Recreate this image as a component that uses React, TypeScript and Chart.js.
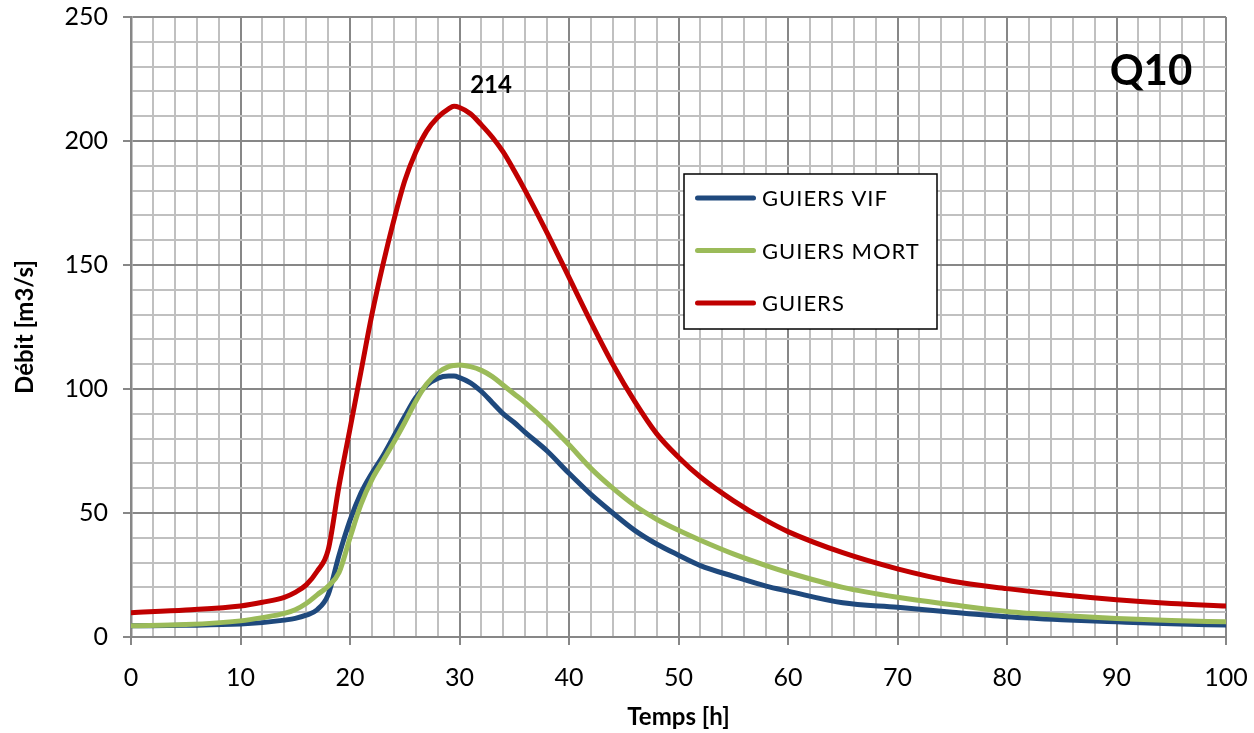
import React, { useEffect, useRef } from 'react';
import { Chart, registerables } from 'chart.js';

Chart.register(...registerables);

// Time axis (hours)
const hours = [0, 5, 10, 12, 14, 15, 16, 17, 18, 19, 20, 21, 22, 23, 24, 25, 26, 27, 28, 29, 29.5, 30, 31, 32, 33, 34, 35, 36, 38, 40, 42, 44, 46, 48, 50, 52, 55, 58, 60, 65, 70, 75, 80, 85, 90, 95, 100];

// Débit [m3/s]
const guiersVif = [4.5, 4.7, 5.2, 5.8, 6.8, 7.5, 8.8, 11, 17, 33, 47, 58, 66, 73, 81, 89, 96.5, 101.5, 104.3, 105.2, 105.2, 104.6, 102.5, 99, 94.5, 90, 86.5, 82.5, 75, 66, 57.5, 50, 43, 37.5, 33, 28.8, 24.5, 20.5, 18.5, 13.8, 12, 10, 8.2, 7, 6.1, 5.3, 4.8];
const guiersMort = [4.5, 5.0, 6.5, 7.8, 9.5, 11, 13.5, 17, 20.5, 26, 40, 53.5, 63.5, 71, 78.5, 86.5, 95, 102, 106.5, 109, 109.5, 109.7, 109, 107.5, 105, 101.5, 98, 94.5, 86.5, 77.5, 68, 60, 53, 47.5, 43, 39, 33.5, 28.8, 26, 20, 16, 13, 10.3, 8.7, 7.5, 6.7, 6.1];
const guiers = [9.8, 10.9, 12.5, 14, 16, 18, 21, 26.5, 35, 61, 84, 107, 130, 150, 168, 184, 195.5, 204, 209.5, 213, 214, 213.5, 211, 206.5, 201.5, 195.5, 188, 180, 163, 145, 127, 110, 95, 82, 72.5, 64.5, 55, 47, 42.5, 34, 27.5, 22.5, 19.5, 17, 15, 13.5, 12.5];

const seriesNames = ['GUIERS VIF', 'GUIERS MORT', 'GUIERS'];
const seriesColors = ['#1F497D', '#9BBB59', '#C00000'];

const xMin = 0, xMax = 100, xStep = 2, xMajor = 10;
const yMin = 0, yMax = 250, yStep = 10, yMajor = 50;

const xTitle = 'Temps [h]';
const yTitle = 'Débit [m3/s]';
const chartTag = 'Q10';

const FONT = 'Lato';
const MAJOR = '#878787';
const MINOR = '#C0C0C0';

const gridColor = (major: number) => (ctx: any) =>
  ctx.tick && Math.round(ctx.tick.value) % major === 0 ? MAJOR : MINOR;
const tickMarkColor = (major: number) => (ctx: any) =>
  ctx.tick && Math.round(ctx.tick.value) % major === 0 ? MAJOR : 'rgba(0,0,0,0)';

const legendPlugin = {
  id: 'boxLegend',
  afterDatasetsDraw(chart: any) {
    const { ctx, chartArea } = chart;
    const x0 = chartArea.left + 553;
    const y0 = chartArea.top + 157;
    const w = 253;
    const h = 155;
    ctx.save();
    ctx.fillStyle = '#ffffff';
    ctx.fillRect(x0, y0, w, h);
    ctx.strokeStyle = '#000000';
    ctx.lineWidth = 1.5;
    ctx.strokeRect(x0, y0, w, h);
    chart.data.datasets.forEach((ds: any, i: number) => {
      const y = y0 + 24 + i * 52.5;
      ctx.strokeStyle = ds.borderColor;
      ctx.lineWidth = 5;
      ctx.lineCap = 'round';
      ctx.beginPath();
      ctx.moveTo(x0 + 13.5, y);
      ctx.lineTo(x0 + 69.5, y);
      ctx.stroke();
      ctx.fillStyle = '#000000';
      ctx.font = `22px ${FONT}`;
      try { (ctx as any).letterSpacing = '1px'; } catch (e) {}
      ctx.textBaseline = 'middle';
      ctx.textAlign = 'left';
      ctx.fillText(ds.label, x0 + 78, y + 1);
    });
    ctx.restore();
  },
};

const annotationPlugin = {
  id: 'annotations',
  afterDatasetsDraw(chart: any) {
    const { ctx, chartArea, scales } = chart;
    ctx.save();
    const data = chart.data.datasets[2].data as { x: number; y: number }[];
    let peak = data[0];
    data.forEach((p) => { if (p.y > peak.y) peak = p; });
    const px = scales.x.getPixelForValue(peak.x);
    const py = scales.y.getPixelForValue(peak.y);
    ctx.fillStyle = '#000000';
    ctx.font = `bold 24px ${FONT}`;
    ctx.textAlign = 'center';
    ctx.textBaseline = 'alphabetic';
    ctx.fillText(String(Math.round(peak.y)), px + 37, py - 13);
    ctx.font = `bold 42px ${FONT}`;
    ctx.fillText(chartTag, chartArea.right - 75, chartArea.top + 68);
    ctx.restore();
  },
};

export default function App() {
  const canvasRef = useRef<HTMLCanvasElement | null>(null);

  useEffect(() => {
    if (!canvasRef.current) return;
    Chart.defaults.font.family = FONT;
    const seriesValues = [guiersVif, guiersMort, guiers];
    const chart = new Chart(canvasRef.current, {
      type: 'line',
      data: {
        datasets: seriesValues.map((vals, i) => ({
          label: seriesNames[i],
          data: hours.map((h, j) => ({ x: h, y: vals[j] })),
          borderColor: seriesColors[i],
          backgroundColor: seriesColors[i],
          borderWidth: 5,
          pointRadius: 0,
          pointHoverRadius: 0,
          cubicInterpolationMode: 'monotone' as const,
          borderCapStyle: 'round' as const,
          borderJoinStyle: 'round' as const,
          fill: false,
          order: 3 - i,
        })),
      },
      options: {
        responsive: false,
        animation: false,
        events: [],
        layout: { padding: { left: 0, right: 28, top: 17, bottom: 0 } },
        plugins: {
          legend: { display: false },
          tooltip: { enabled: false },
          title: { display: false },
        },
        scales: {
          x: {
            type: 'linear',
            min: xMin,
            max: xMax,
            afterFit: (scale: any) => {
              scale.height = 96;
              scale.paddingLeft = 0;
              scale.paddingRight = 0;
            },
            ticks: {
              stepSize: xStep,
              autoSkip: false,
              maxRotation: 0,
              padding: 18,
              color: '#000000',
              font: { size: 25, family: FONT },
              callback: (v: any) => (Math.round(v) % xMajor === 0 ? String(v) : ''),
            },
            grid: {
              color: gridColor(xMajor),
              lineWidth: 2,
              tickLength: 8,
              tickColor: tickMarkColor(xMajor),
              tickWidth: 2,
            },
            border: { display: true, color: MAJOR, width: 2 },
            title: {
              display: true,
              text: xTitle,
              color: '#000000',
              font: { size: 24, weight: 'bold', family: FONT },
              padding: { top: 0, bottom: 1 },
            },
          },
          y: {
            type: 'linear',
            min: yMin,
            max: yMax,
            afterFit: (scale: any) => {
              scale.width = 131;
              scale.paddingTop = 0;
              scale.paddingBottom = 0;
            },
            ticks: {
              stepSize: yStep,
              autoSkip: false,
              padding: 15,
              color: '#000000',
              font: { size: 25, family: FONT },
              callback: (v: any) => (Math.round(v) % yMajor === 0 ? String(v) : ''),
            },
            grid: {
              color: gridColor(yMajor),
              lineWidth: 2,
              tickLength: 8,
              tickColor: tickMarkColor(yMajor),
              tickWidth: 2,
            },
            border: { display: true, color: MAJOR, width: 2.5 },
            title: {
              display: true,
              text: yTitle,
              color: '#000000',
              font: { size: 24, weight: 'bold', family: FONT },
              padding: { top: 11, bottom: 0 },
            },
          },
        },
      },
      plugins: [legendPlugin, annotationPlugin],
    });
    return () => chart.destroy();
  }, []);

  return (
    <div style={{ position: 'absolute', left: 0, top: 0, width: 1254, height: 733, background: '#ffffff' }}>
      <canvas ref={canvasRef} width={1254} height={733} />
    </div>
  );
}
